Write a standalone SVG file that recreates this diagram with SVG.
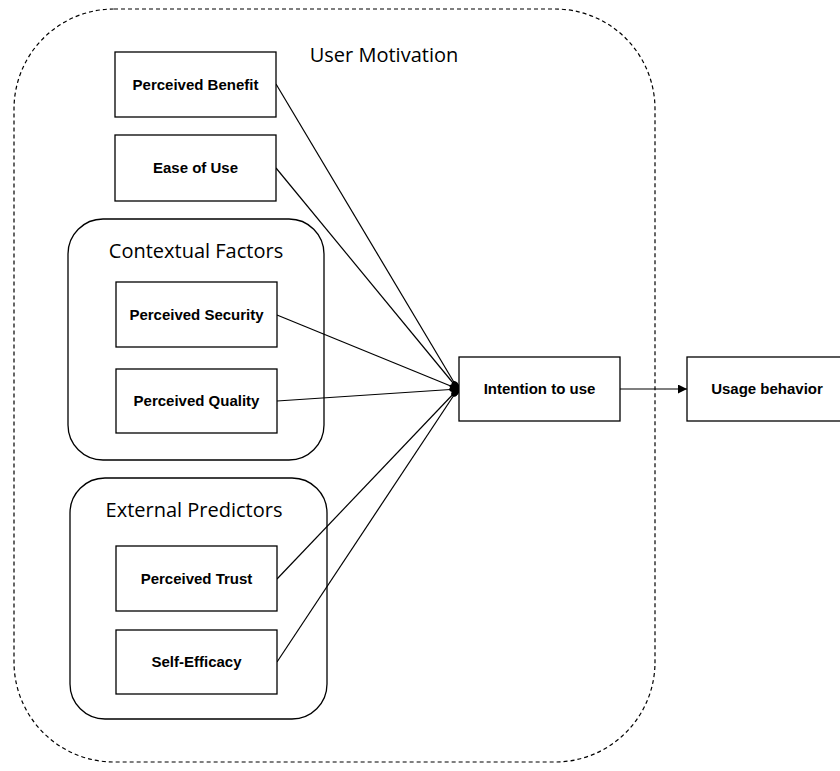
<svg xmlns="http://www.w3.org/2000/svg" width="840" height="771" viewBox="0 0 840 771">
<style>
.box{fill:#fff;stroke:#000;stroke-width:1.3}
.grp{fill:none;stroke:#000;stroke-width:1.3}
.lbl{font-family:"Liberation Sans",Arial,sans-serif;font-weight:bold;font-size:15px;text-anchor:middle;fill:#000}
.ttl{font-family:"Open Sans","Liberation Sans",sans-serif;font-size:20px;text-anchor:middle;fill:#000}
.edge{stroke:#000;stroke-width:1.2;fill:none}
</style>
<defs>
<marker id="oval" viewBox="0 0 10 6" refX="9" refY="3" markerWidth="10" markerHeight="6" markerUnits="userSpaceOnUse" orient="auto">
<ellipse cx="5" cy="3" rx="5" ry="3" fill="#000"/>
</marker>
<marker id="arr" viewBox="0 0 10 10" refX="10" refY="5" markerWidth="9" markerHeight="9" markerUnits="userSpaceOnUse" orient="auto">
<path d="M0,0 L10,5 L0,10 z" fill="#000"/>
</marker>
</defs>
<rect id="user-motivation" x="14" y="9" width="641" height="753" rx="100" ry="100" fill="none" stroke="#000" stroke-width="1.2" stroke-dasharray="4,3"/>
<text class="ttl" x="384" y="62">User Motivation</text>
<g id="contextual-factors">
<rect class="grp" x="68" y="219" width="256" height="241" rx="35" ry="35"/>
<text class="ttl" x="196" y="258">Contextual Factors</text>
</g>
<g id="external-predictors">
<rect class="grp" x="70" y="478" width="257" height="241" rx="35" ry="35"/>
<text class="ttl" x="194" y="517">External Predictors</text>
</g>
<g id="connectors">
<line class="edge" x1="276" y1="84" x2="458" y2="389" marker-end="url(#oval)"/>
<line class="edge" x1="276" y1="168" x2="458" y2="389" marker-end="url(#oval)"/>
<line class="edge" x1="277" y1="315" x2="458" y2="389" marker-end="url(#oval)"/>
<line class="edge" x1="277" y1="401" x2="458" y2="389" marker-end="url(#oval)"/>
<line class="edge" x1="277" y1="579" x2="458" y2="389" marker-end="url(#oval)"/>
<line class="edge" x1="277" y1="662" x2="458" y2="389" marker-end="url(#oval)"/>
<line class="edge" x1="620" y1="389" x2="687" y2="389" marker-end="url(#arr)"/>
</g>
<g id="perceived-benefit"><rect class="box" x="115" y="52" width="161" height="65"/><text class="lbl" x="195.5" y="89.5">Perceived Benefit</text></g>
<g id="ease-of-use"><rect class="box" x="115" y="135" width="161" height="66"/><text class="lbl" x="195.5" y="173">Ease of Use</text></g>
<g id="perceived-security"><rect class="box" x="116" y="282" width="161" height="65"/><text class="lbl" x="196.5" y="320">Perceived Security</text></g>
<g id="perceived-quality"><rect class="box" x="116" y="369" width="161" height="64"/><text class="lbl" x="196.5" y="406">Perceived Quality</text></g>
<g id="perceived-trust"><rect class="box" x="116" y="546" width="161" height="65"/><text class="lbl" x="196.5" y="584">Perceived Trust</text></g>
<g id="self-efficacy"><rect class="box" x="116" y="630" width="161" height="64"/><text class="lbl" x="196.5" y="667">Self-Efficacy</text></g>
<g id="intention-to-use"><rect class="box" x="459" y="357" width="161" height="64"/><text class="lbl" x="539.5" y="394">Intention to use</text></g>
<g id="usage-behavior"><rect class="box" x="687" y="357" width="161" height="64"/><text class="lbl" x="767" y="394">Usage behavior</text></g>
</svg>
